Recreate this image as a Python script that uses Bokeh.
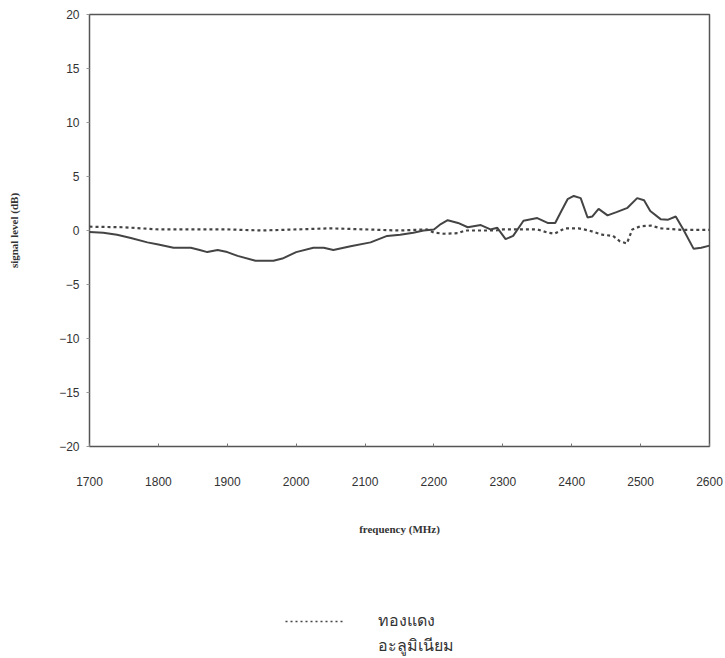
from bokeh.plotting import figure
from bokeh.models import Range1d, FixedTicker, Legend, LegendItem
from bokeh.layouts import column
from bokeh.embed import file_html
from bokeh.resources import INLINE

# aluminium (solid)
al_freq = [1700, 1720, 1740, 1760, 1784, 1800, 1822, 1847, 1860, 1871, 1886, 1900, 1915, 1941,
           1967, 1980, 2000, 2025, 2040, 2054, 2079, 2108, 2132, 2151, 2170, 2185, 2200, 2210,
           2220, 2235, 2249, 2268, 2282, 2292, 2304, 2315, 2330, 2350, 2365, 2376, 2385, 2394,
           2403, 2413, 2423, 2430, 2439, 2452, 2465, 2481, 2495, 2505, 2514, 2529, 2540, 2551,
           2562, 2577, 2588, 2600]
al_db = [-0.15, -0.2, -0.4, -0.7, -1.1, -1.3, -1.6, -1.6, -1.8, -2.0, -1.8, -2.0, -2.35, -2.8,
         -2.8, -2.6, -2.0, -1.6, -1.6, -1.8, -1.45, -1.1, -0.5, -0.4, -0.2, 0.0, 0.1, 0.6,
         0.95, 0.7, 0.3, 0.5, 0.1, 0.25, -0.8, -0.5, 0.9, 1.15, 0.7, 0.7, 1.8, 2.9,
         3.2, 3.0, 1.2, 1.3, 2.0, 1.4, 1.7, 2.1, 3.0, 2.8, 1.8, 1.05, 1.0, 1.3,
         0.1, -1.7, -1.6, -1.4]

# copper (dotted)
cu_freq = [1700, 1750, 1800, 1850, 1900, 1950, 2000, 2050, 2100, 2150, 2190, 2200, 2215, 2235,
           2245, 2290, 2300, 2350, 2365, 2375, 2390, 2410, 2425, 2445, 2460, 2470, 2480, 2488,
           2500, 2515, 2530, 2560, 2600]
cu_db = [0.35, 0.3, 0.1, 0.1, 0.1, 0.0, 0.1, 0.2, 0.1, 0.0, 0.1, -0.2, -0.3, -0.25,
         0.0, 0.0, 0.1, 0.1, -0.2, -0.3, 0.2, 0.2, 0.0, -0.4, -0.5, -1.0, -1.2, 0.1,
         0.4, 0.45, 0.2, 0.05, 0.05]

x_ticks = [1700, 1800, 1900, 2000, 2100, 2200, 2300, 2400, 2500, 2600]
y_ticks = [-20, -15, -10, -5, 0, 5, 10, 15, 20]

label_cu = "ทองแดง"
label_al = "อะลูมิเนียม"

LINE = "#444444"
TXT = "#333333"

p = figure(width=725, height=560, output_backend="svg", toolbar_location=None,
           x_range=Range1d(1700, 2600), y_range=Range1d(-20, 20),
           min_border_left=89, min_border_right=16, min_border_top=14, min_border_bottom=114)
p.grid.visible = False
p.outline_line_color = "#555555"
p.outline_line_width = 1.5
p.background_fill_color = "white"
p.border_fill_color = "white"

p.line(cu_freq, cu_db, line_color=LINE, line_width=2.2, line_dash="3 3")
p.line(al_freq, al_db, line_color=LINE, line_width=2)

xa = p.xaxis[0]
xa.ticker = FixedTicker(ticks=x_ticks)
xa.minor_tick_line_color = None
xa.major_tick_in = 3
xa.major_tick_out = 0
xa.axis_line_color = None
xa.major_tick_line_color = "#777777"
xa.major_label_standoff = 30
xa.major_label_text_font = "Liberation Sans"
xa.major_label_text_font_size = "12px"
xa.major_label_text_color = TXT
xa.axis_label = "frequency (MHz)"
xa.axis_label_text_font = "Liberation Serif"
xa.axis_label_text_font_style = "bold"
xa.axis_label_text_font_size = "11px"
xa.axis_label_text_color = TXT
xa.axis_label_standoff = 34

ya = p.yaxis[0]
ya.ticker = FixedTicker(ticks=y_ticks)
ya.minor_tick_line_color = None
ya.major_tick_in = 0
ya.major_tick_out = 3
ya.axis_line_color = None
ya.major_tick_line_color = "#999999"
ya.major_label_standoff = 7
ya.major_label_text_font = "Liberation Sans"
ya.major_label_text_font_size = "12px"
ya.major_label_text_color = TXT
ya.axis_label = "signal level (dB)"
ya.axis_label_text_font = "Liberation Serif"
ya.axis_label_text_font_style = "bold"
ya.axis_label_text_font_size = "11px"
ya.axis_label_text_color = TXT
ya.axis_label_standoff = 36

# legend strip below the chart (its frame is aligned with the chart's frame)
nan = float("nan")
q = figure(width=725, height=98, output_backend="svg", toolbar_location=None,
           x_range=Range1d(0, 1), y_range=Range1d(0, 1),
           min_border_left=0, min_border_right=0, min_border_top=0, min_border_bottom=0)
q.axis.visible = False
q.grid.visible = False
q.outline_line_color = None
q.background_fill_color = "white"
q.border_fill_color = "white"
r_cu = q.line(x=[nan], y=[nan], line_color=LINE, line_width=1.3, line_dash="2 3")
r_al = q.line(x=[nan], y=[nan], line_alpha=0)

legend = Legend(items=[LegendItem(label=label_cu, renderers=[r_cu]),
                       LegendItem(label=label_al, renderers=[r_al])],
                location=(196, 0), orientation="vertical",
                border_line_color=None, background_fill_alpha=0,
                glyph_width=60, glyph_height=20, label_standoff=33,
                label_height=20, spacing=0, padding=0, margin=0,
                label_text_font="Noto Sans", label_text_font_size="16px",
                label_text_color=TXT)
q.add_layout(legend, "center")

layout = column(p, q, spacing=0)
open("out.html", "w").write(file_html(layout, INLINE))
